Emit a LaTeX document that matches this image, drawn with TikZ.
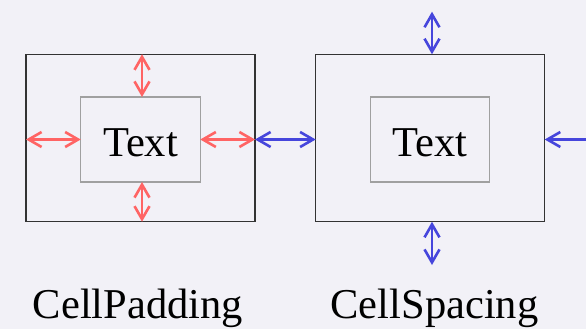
\documentclass[tikz,border=0pt]{standalone}
\usepackage{fontspec}
\setmainfont{Liberation Serif}
\usetikzlibrary{arrows.meta}
\definecolor{paper}{HTML}{F2F1F7}
\definecolor{padred}{HTML}{FF6464}
\definecolor{spaceblue}{HTML}{4646DC}
\definecolor{framegray}{HTML}{333333}
\definecolor{innergray}{HTML}{A0A0A0}
\tikzset{
  outerbox/.style={draw=framegray, line width=1.3pt, outer sep=0pt, inner sep=0pt,
    minimum width=229pt, minimum height=167.5pt},
  innerbox/.style={draw=innergray, line width=1.3pt, outer sep=0pt, inner sep=0pt,
    minimum width=119.5pt, minimum height=85pt, font=\fontsize{42.5}{50}\selectfont,
    text height=33pt, text depth=0pt},
  caption/.style={anchor=base, inner sep=0pt, font=\fontsize{42.5}{50}\selectfont},
  barbtip/.tip={Straight Barb[length=13pt, width=15pt, line width=2.6pt]},
  padarrow/.style={draw=padred, line width=2.2pt, barbtip-barbtip},
  spacearrow/.style={draw=spaceblue, line width=2.2pt, barbtip-barbtip}
}
\begin{document}
\begin{tikzpicture}[x=1pt, y=-1pt]
  \useasboundingbox (0,0) rectangle (586,329);
  \clip (0,0) rectangle (586,329);
  \fill[paper] (0,0) rectangle (586,329);

  % cell with padding
  \node[outerbox] (padout) at (140.5,138) {};
  \node[innerbox] (padin) at (140.5,139.5) {Text};
  % cell with spacing
  \node[outerbox] (spout) at (430.2,138) {};
  \node[innerbox] (spin) at (430,139.5) {Text};

  \node[caption] (padcap) at (138,318) {CellPadding};
  \node[caption] (spcap) at (434.5,318) {CellSpacing};

  % padding arrows between inner and outer boxes
  \draw[padarrow] ([xshift=1.5pt]padin.north) -- ([xshift=1.5pt]padin.north |- padout.north);
  \draw[padarrow] ([xshift=1.5pt]padin.south) -- ([xshift=1.5pt]padin.south |- padout.south);
  \draw[padarrow] (padin.west -| padout.west) -- (padin.west);
  \draw[padarrow] (padin.east) -- (padin.east -| padout.east);

  % spacing arrows around the outer box
  \coordinate (sptop) at (432,11.7);
  \coordinate (spbot) at (432,265);
  \coordinate (spright) at (606,139.5);
  \draw[spacearrow] (padin.east -| padout.east) -- (padin.east -| spout.west);
  \draw[spacearrow] (sptop) -- (sptop |- spout.north);
  \draw[spacearrow] (spbot |- spout.south) -- (spbot);
  \draw[spacearrow] (spright -| spout.east) -- (spright);
\end{tikzpicture}
\end{document}
